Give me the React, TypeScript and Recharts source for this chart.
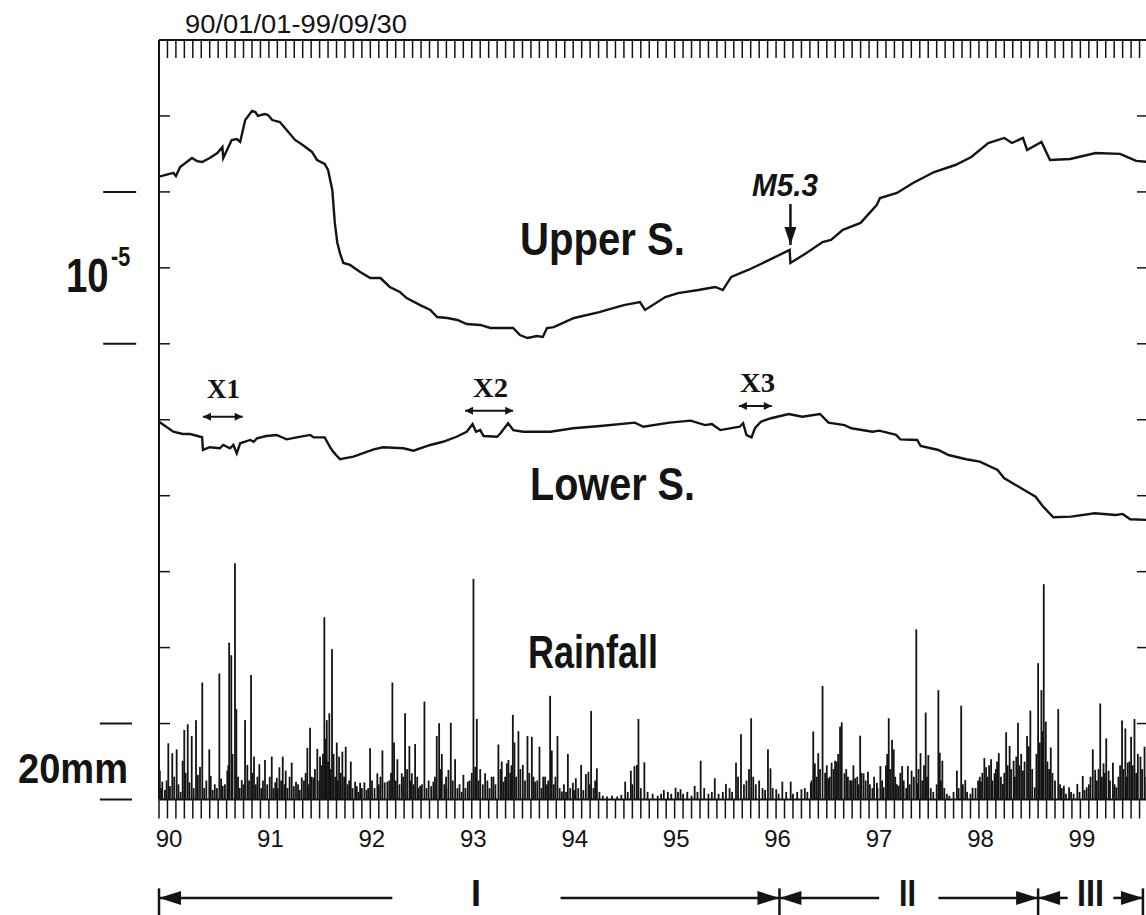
import React from "react";
import { ComposedChart, Line, Bar, XAxis, YAxis, ReferenceLine } from "recharts";

// time axis: months counted from 90/01/01, record ends 99/09/30
const START_YEAR = 90;
const MONTHS = 117;

const INK = "#141414";
const SANS = "'Liberation Sans', Arial, sans-serif";
const SERIF = "'Liberation Serif', 'Times New Roman', serif";

// strain, relative, in units of 1e-6 (scale bar: 10 units = 10^-5)
const upperStrain: [number, number][] = [
  [0, 41.0], [1.7, 41.25], [2.0, 41.05], [2.5, 41.64], [3.9, 42.23], [4.5, 42.03],
  [5.1, 41.97], [6.0, 42.23], [6.9, 42.56], [7.5, 42.95], [7.6, 42.23], [8.6, 43.42],
  [9.2, 43.48], [9.6, 43.29], [10.2, 44.73], [11.0, 45.33], [11.4, 45.26], [11.7, 45.0],
  [12.5, 45.13], [12.9, 45.06], [13.4, 44.73], [14.3, 44.6], [15.1, 44.08], [16.1, 43.42],
  [17.0, 43.09], [18.1, 42.63], [18.7, 42.1], [19.6, 41.84], [20.0, 41.44], [20.5, 40.13],
  [20.8, 37.96], [21.1, 36.64], [21.4, 35.98], [21.8, 35.32], [22.6, 35.19], [23.8, 34.73],
  [25.0, 34.33], [26.2, 34.33], [27.3, 33.74], [28.5, 33.41], [29.3, 33.01], [30.9, 32.55],
  [32.1, 32.23], [32.9, 31.76], [34.1, 31.7], [35.3, 31.57], [36.4, 31.3], [38.0, 31.24],
  [39.2, 31.04], [40.4, 31.04], [41.9, 31.04], [42.7, 30.58], [43.6, 30.38], [44.7, 30.51],
  [45.4, 30.45], [45.9, 31.04], [46.7, 31.1], [49.1, 31.7], [52.1, 32.09], [53.0, 32.23],
  [55.0, 32.55], [56.9, 32.75], [57.5, 32.23], [59.9, 33.08], [61.4, 33.34], [63.8, 33.54],
  [65.8, 33.74], [66.7, 33.54], [67.7, 34.4], [69.7, 34.86], [72.2, 35.52], [74.6, 36.18],
  [74.7, 35.32], [76.6, 35.98], [78.5, 36.7], [79.5, 36.84], [80.9, 37.5], [83.0, 37.96],
  [84.9, 39.14], [85.3, 39.6], [87.3, 39.93], [89.2, 40.59], [91.7, 41.31], [94.2, 41.77],
  [96.1, 42.3], [98.1, 43.22], [100.0, 43.55], [100.9, 43.22], [102.2, 43.55], [102.7, 42.76],
  [104.4, 43.29], [105.4, 42.1], [107.8, 42.17], [110.8, 42.56], [113.7, 42.5], [115.6, 42.04],
  [117, 41.97],
];

const lowerStrain: [number, number][] = [
  [0, 24.87], [1.7, 24.21], [2.8, 24.06], [3.7, 24.06], [5.1, 23.85], [5.2, 23.01],
  [6.0, 23.19], [7.2, 23.12], [7.6, 23.34], [8.4, 23.12], [8.8, 23.34], [9.2, 22.79],
  [9.6, 23.45], [10.8, 23.67], [11.2, 23.55], [11.6, 23.78], [12.7, 23.93], [13.9, 24.0],
  [15.1, 23.71], [16.3, 23.84], [17.9, 24.0], [18.3, 23.84], [19.6, 23.84], [20.2, 23.23],
  [20.6, 22.9], [21.4, 22.4], [23.0, 22.57], [25.4, 23.05], [26.5, 23.19], [28.9, 23.12],
  [30.1, 22.96], [32.1, 23.34], [33.6, 23.55], [35.2, 23.88], [36.4, 24.21], [37.1, 24.72],
  [37.5, 24.21], [38.0, 24.32], [38.4, 23.93], [40.0, 23.88], [40.4, 24.11], [41.3, 24.77],
  [41.9, 24.32], [43.1, 24.21], [46.3, 24.21], [49.0, 24.44], [52.2, 24.59], [56.3, 24.81],
  [57.3, 24.54], [60.4, 24.81], [62.9, 24.94], [64.6, 24.65], [65.4, 24.72], [66.4, 24.32],
  [68.7, 24.54], [69.1, 24.77], [69.5, 23.99], [70.1, 23.84], [70.5, 24.44], [71.2, 24.87],
  [72.4, 25.1], [74.5, 25.38], [76.1, 25.2], [78.2, 25.38], [79.2, 24.81], [81.1, 24.65],
  [81.9, 24.44], [84.4, 24.21], [85.2, 24.28], [87.2, 24.0], [87.7, 23.71], [89.7, 23.67],
  [90.1, 23.27], [92.2, 23.01], [93.4, 22.68], [95.5, 22.4], [97.1, 22.24], [99.2, 21.69],
  [100.0, 21.15], [101.7, 20.59], [103.7, 19.93], [104.6, 19.28], [105.8, 18.58], [107.9, 18.62],
  [110.7, 18.84], [113.2, 18.73], [114.0, 18.8], [114.9, 18.45], [117, 18.4],
];

// daily rainfall, mm: the heavier days
const rainHeavy: [number, number][] = [
  [0.1, 7.6], [0.39, 4.7], [1.1, 14.8], [1.57, 12.2], [2.09, 13.2], [2.8, 10.2], [2.99, 18.3],
  [3.4, 19.8], [3.87, 16.7], [4.38, 20.9], [4.85, 8.6], [5.12, 30.8], [5.95, 13.2], [6.12, 6.2],
  [7.14, 33.2], [7.54, 3.6], [8.08, 7.6], [8.3, 41.3], [8.55, 38.0], [8.99, 62.2], [9.15, 23.8],
  [9.79, 5.1], [10.18, 20.9], [10.45, 9.1], [10.89, 32.8], [11.24, 11.3], [11.87, 9.3],
  [12.54, 10.4], [13.34, 11.3], [13.93, 5.7], [14.24, 8.5], [14.64, 11.3], [14.99, 7.6],
  [15.7, 9.7], [16.21, 4.7], [16.89, 5.8], [17.55, 13.6], [17.87, 18.9], [18.26, 5.8],
  [18.73, 13.3], [19.05, 11.3], [19.56, 48.0], [19.85, 20.9], [20.15, 22.7], [20.47, 39.6],
  [21.03, 15.0], [21.3, 11.3], [21.69, 12.6], [22.09, 13.9], [22.69, 10.0], [23.2, 4.7],
  [23.79, 4.4], [24.97, 13.5], [25.83, 6.9], [26.43, 12.9], [27.02, 4.7], [27.61, 30.8],
  [27.81, 15.0], [28.2, 10.6], [28.72, 6.9], [29.11, 22.7], [29.62, 14.1], [29.91, 6.9],
  [30.3, 14.6], [30.89, 3.6], [31.4, 25.8], [32.46, 4.7], [32.86, 16.7], [33.14, 20.1],
  [33.46, 12.0], [33.96, 6.0], [34.24, 7.8], [34.52, 20.2], [35.03, 10.6], [36.01, 6.5],
  [36.53, 4.7], [37.2, 58.1], [37.4, 8.6], [37.6, 21.2], [38.58, 6.9], [39.56, 6.0],
  [40.15, 14.5], [40.75, 4.7], [41.15, 9.5], [41.34, 10.4], [41.86, 22.3], [42.05, 15.0],
  [42.52, 18.0], [43.04, 9.1], [43.59, 16.7], [44.11, 16.5], [44.5, 4.7], [45.01, 13.9],
  [45.68, 6.0], [46.27, 27.3], [46.47, 12.9], [47.14, 16.7], [47.66, 2.1], [48.37, 12.0],
  [48.96, 4.4], [49.31, 5.6], [49.94, 9.1], [50.5, 6.7], [50.8, 7.3], [51.12, 23.3],
  [51.8, 8.2], [55.15, 4.7], [55.82, 7.6], [56.25, 8.8], [56.54, 9.1], [56.72, 21.2],
  [57.42, 9.8], [59.72, 2.5], [61.11, 3.1], [61.7, 2.7], [63.37, 3.6], [64.08, 10.2],
  [65.75, 5.6], [67.07, 4.1], [68.26, 9.7], [68.85, 17.2], [70.05, 21.4], [72.04, 13.2],
  [72.34, 8.2], [73.02, 2.7], [73.74, 4.7], [74.73, 4.7], [76.0, 2.7], [77.11, 4.4],
  [77.4, 17.9], [77.59, 9.5], [77.99, 12.2], [78.5, 29.9], [79.17, 5.6], [79.57, 9.7],
  [79.98, 10.2], [80.57, 19.2], [80.77, 20.3], [81.09, 6.9], [81.76, 5.1], [82.36, 5.6],
  [82.95, 16.8], [83.35, 6.9], [83.87, 7.3], [84.93, 4.4], [85.34, 8.8], [85.73, 3.2],
  [86.33, 21.4], [86.72, 15.7], [86.92, 13.2], [87.51, 3.6], [87.92, 8.8], [88.59, 8.8],
  [89.03, 7.6], [89.59, 44.8], [89.7, 4.3], [90.09, 12.2], [90.7, 22.9], [91.01, 11.7],
  [92.2, 28.8], [92.37, 12.3], [92.67, 10.2], [94.39, 7.6], [94.9, 24.7], [95.38, 5.1],
  [96.25, 3.1], [97.24, 4.7], [97.64, 10.9], [97.85, 8.5], [98.44, 10.6], [98.84, 6.9],
  [99.35, 12.2], [99.83, 4.1], [100.22, 17.7], [100.63, 14.1], [101.1, 10.2], [101.42, 11.3],
  [101.62, 20.2], [102.21, 7.6], [102.69, 16.7], [103.08, 23.4], [103.6, 3.2], [104.0, 35.9],
  [104.39, 28.8], [104.67, 56.7], [104.91, 20.5], [105.5, 13.7], [106.38, 23.8], [107.05, 3.6],
  [107.66, 3.2], [108.64, 4.1], [109.28, 6.2], [109.75, 3.2], [110.47, 13.2], [110.75, 7.8],
  [111.35, 25.3], [111.74, 9.5], [112.06, 16.1], [112.34, 7.6], [112.85, 9.7], [113.25, 3.2],
  [113.93, 20.8], [114.32, 18.7], [114.6, 9.7], [115.0, 16.5], [115.4, 21.2], [116.11, 11.3],
  [116.59, 13.9],
];

// daily rainfall, mm: the light days that make the dense base
const rainLight: [number, number][] = [
  [0.25, 3], [0.7, 2.5], [0.9, 5], [1.3, 3.5], [1.8, 6], [2.3, 4], [2.55, 2], [3.15, 7],
  [3.6, 4.5], [4.1, 3], [4.6, 6.5], [5.35, 3], [5.6, 5], [6.35, 2.5], [6.6, 4], [6.85, 3],
  [7.35, 5.5], [7.8, 4], [8.2, 9], [8.7, 12], [9.35, 6], [9.55, 3], [10.0, 4], [10.65, 5],
  [11.05, 7], [11.45, 4], [11.65, 6], [12.1, 3], [12.3, 5], [12.8, 4], [13.1, 6], [13.55, 3],
  [13.75, 4.5], [14.05, 3], [14.45, 5], [14.85, 4], [15.2, 3], [15.45, 6], [15.95, 3.5],
  [16.45, 4], [16.65, 2.5], [17.15, 5], [17.35, 7], [17.7, 4], [18.05, 6], [18.45, 8],
  [18.95, 5], [19.25, 9], [19.4, 12], [19.7, 16], [20.0, 10], [20.3, 8], [20.65, 12],
  [20.85, 6], [21.15, 5], [21.5, 7], [21.9, 6], [22.3, 4], [22.5, 5], [22.9, 3], [23.4, 3.5],
  [23.6, 2], [24.0, 3], [24.3, 4.5], [24.55, 2.5], [24.75, 3], [25.2, 5], [25.5, 3], [26.0, 4],
  [26.2, 6], [26.7, 4.5], [27.25, 5], [27.45, 7], [28.0, 5], [28.45, 4], [28.9, 6], [29.35, 8],
  [29.75, 5], [30.1, 4], [30.55, 6], [30.7, 3], [31.1, 4], [31.65, 3], [31.9, 5], [32.2, 3.5],
  [32.65, 6], [33.3, 8], [33.75, 4], [34.0, 3], [34.75, 5], [35.3, 3], [35.55, 4], [35.8, 2],
  [36.25, 3], [36.75, 5], [37.0, 7], [37.8, 5], [38.0, 8], [38.3, 4], [38.85, 5], [39.1, 3],
  [39.35, 6], [39.8, 4], [40.4, 8], [40.55, 10], [40.95, 6], [41.55, 7], [41.7, 9], [42.25, 6],
  [42.75, 8], [43.3, 5], [43.8, 7], [44.3, 6], [44.75, 5], [45.25, 3], [45.45, 6], [45.9, 4],
  [46.05, 5], [46.7, 4], [46.9, 6], [47.4, 3], [47.9, 4], [48.15, 2], [48.65, 3], [49.1, 2.5],
  [49.6, 3], [50.2, 2.5], [50.95, 4], [51.4, 3], [51.6, 5], [52.1, 2], [52.5, 1], [53.0, 0.8],
  [53.6, 1], [54.2, 0.8], [54.7, 1.2], [55.45, 2], [56.0, 4], [57.0, 3], [57.8, 2], [58.4, 1.5],
  [59.0, 1], [59.4, 1.5], [60.2, 2], [60.6, 1.5], [61.4, 2], [62.0, 1.5], [62.5, 2], [63.0, 1],
  [63.7, 2], [64.5, 3], [65.0, 1.5], [65.4, 2], [66.2, 1.5], [66.7, 2], [67.5, 3], [67.8, 2],
  [68.5, 6], [69.2, 4], [69.5, 5], [69.8, 8], [70.3, 6], [70.6, 4], [71.0, 5], [71.4, 3],
  [71.7, 2.5], [72.6, 3], [73.3, 1.5], [74.2, 2], [75.0, 1.5], [75.5, 2], [76.4, 3], [76.7, 2],
  [77.2, 5], [77.8, 6], [78.2, 8], [78.8, 7], [79.0, 9], [79.35, 6], [79.8, 8], [80.2, 10],
  [80.35, 12], [81.3, 8], [81.5, 6], [81.95, 5], [82.15, 9], [82.6, 6], [82.75, 4], [83.1, 7],
  [83.6, 5], [84.1, 4], [84.4, 3], [84.6, 6], [85.0, 3], [85.55, 5], [86.0, 9], [86.15, 12],
  [86.5, 8], [87.1, 6], [87.3, 4], [87.7, 7], [88.1, 5], [88.4, 3], [88.8, 4], [89.3, 6],
  [89.85, 8], [90.3, 5], [90.5, 9], [90.85, 6], [91.3, 3], [91.6, 2], [92.0, 4], [92.5, 5],
  [92.9, 3], [93.2, 1.5], [93.5, 1], [94.0, 2], [94.6, 3], [95.1, 4], [95.6, 2], [96.0, 1.5],
  [96.6, 3], [96.9, 5], [97.1, 6], [97.4, 7], [98.0, 6], [98.2, 9], [98.6, 5], [99.0, 8],
  [99.15, 10], [99.6, 6], [100.0, 7], [100.4, 9], [100.8, 8], [101.25, 6], [101.8, 9],
  [102.0, 12], [102.4, 10], [102.9, 14], [103.3, 8], [103.8, 12], [104.2, 15], [104.5, 18],
  [105.1, 10], [105.3, 8], [105.7, 7], [106.0, 5], [106.6, 4], [106.8, 3], [107.3, 1.5],
  [107.9, 2], [108.2, 1.5], [108.9, 2], [109.5, 2.5], [110.0, 4], [110.2, 6], [110.95, 5],
  [111.15, 8], [111.55, 6], [111.9, 7], [112.5, 5], [113.05, 4], [113.5, 6], [113.7, 9],
  [114.1, 8], [114.45, 6], [114.8, 10], [115.2, 9], [115.6, 7], [115.8, 12], [116.3, 8],
  [116.8, 6],
];

// double arrows over the lower curve (month from, month to, strain level)
const xMarks = [
  { label: "X1", from: 5.2, to: 9.9, level: 25.2 },
  { label: "X2", from: 36.2, to: 41.9, level: 25.6 },
  { label: "X3", from: 68.6, to: 72.5, level: 25.9 },
];

// M5.3 event, month and arrow span on the strain scale
const quake = { month: 74.7, top: 39.2, tip: 36.5 };

// periods I, II, III along the time axis (gap leaves room for the numeral)
const periods = [
  { label: "I", start: 0, end: 73.4, gapFrom: 27.6, gapTo: 47.5 },
  { label: "II", start: 73.4, end: 104, gapFrom: 85.2, gapTo: 92.2 },
  { label: "III", start: 104, end: 116.4, gapFrom: 107.5, gapTo: 112.9 },
];
const PERIOD_LEVEL = -6.48;

const rainData = [...rainHeavy, ...rainLight]
  .sort((a, b) => a[0] - b[0])
  .map(([m, mm]) => ({ m, rain: mm }));
const upperData = upperStrain.map(([m, v]) => ({ m, v }));
const lowerData = lowerStrain.map(([m, v]) => ({ m, v }));
const monthTicks = Array.from({ length: MONTHS + 1 }, (_, i) => i);

const Arrow = (props: any) => {
  const { x1, y1, x2, y2, headStart, headEnd, head = 7, half = 4, sw = 2 } = props;
  const dx = x2 - x1;
  const dy = y2 - y1;
  const len = Math.hypot(dx, dy) || 1;
  const ux = dx / len;
  const uy = dy / len;
  const tri = (tx: number, ty: number, sx: number, sy: number) => {
    const bx = tx - sx * head;
    const by = ty - sy * head;
    return `${tx},${ty} ${bx - sy * half},${by + sx * half} ${bx + sy * half},${by - sx * half}`;
  };
  return (
    <g>
      <line x1={x1} y1={y1} x2={x2} y2={y2} stroke={INK} strokeWidth={sw} />
      {headStart && <polygon points={tri(x1, y1, -ux, -uy)} fill={INK} />}
      {headEnd && <polygon points={tri(x2, y2, ux, uy)} fill={INK} />}
    </g>
  );
};

// one thin stroke per rain day, centred on its date
const RainStroke = (props: any) => {
  const { x, y, width, height } = props;
  if (!height || height <= 0) return null;
  return <rect x={x + width / 2 - 0.9} y={y} width={1.8} height={height} fill={INK} />;
};

const BottomTick = ({ x, y, payload }: any) => (
  <g>
    <line x1={x} y1={y} x2={x} y2={y + 19} stroke={INK} strokeWidth={1.5} />
    {payload.value % 12 === 0 && (
      <text x={x + 10} y={y + 47} textAnchor="middle" fontFamily={SANS} fontSize={24} fill={INK}>
        {START_YEAR + payload.value / 12}
      </text>
    )}
  </g>
);

const TopTick = ({ x, y }: any) => (
  <line x1={x} y1={y} x2={x} y2={y + 18} stroke={INK} strokeWidth={1.5} />
);

const LeftTick = ({ x, y }: any) => (
  <line x1={x} y1={y} x2={x + 11} y2={y} stroke={INK} strokeWidth={1.5} />
);

const RightTick = ({ x, y }: any) => (
  <line x1={x} y1={y} x2={x - 11} y2={y} stroke={INK} strokeWidth={1.5} />
);

export default function App() {
  return (
    <div
      style={{
        position: "fixed",
        left: 0,
        top: 0,
        width: 1146,
        height: 915,
        overflow: "hidden",
        background: "#fff",
      }}
    >
      <ComposedChart
        width={1160}
        height={915}
        data={rainData}
        margin={{ top: 39, right: 11, bottom: 114.5, left: 158 }}
      >
        <XAxis
          xAxisId="b"
          dataKey="m"
          type="number"
          domain={[0, MONTHS]}
          allowDataOverflow
          ticks={monthTicks}
          interval={0}
          height={1}
          tickSize={0}
          tickMargin={0}
          tickLine={false}
          axisLine={{ stroke: INK, strokeWidth: 2 }}
          tick={<BottomTick />}
        />
        <XAxis
          xAxisId="t"
          orientation="top"
          dataKey="m"
          type="number"
          domain={[0, MONTHS]}
          allowDataOverflow
          ticks={monthTicks}
          interval={0}
          height={1}
          tickSize={0}
          tickMargin={0}
          tickLine={false}
          axisLine={{ stroke: INK, strokeWidth: 2 }}
          tick={<TopTick />}
        />
        <YAxis
          yAxisId="s"
          type="number"
          domain={[0, 50]}
          allowDataOverflow
          ticks={[5, 10, 15, 20, 25, 30, 35, 40, 45]}
          interval={0}
          width={1}
          tickSize={0}
          tickMargin={0}
          tickLine={false}
          axisLine={{ stroke: INK, strokeWidth: 2 }}
          tick={<LeftTick />}
        />
        <YAxis
          yAxisId="r"
          orientation="right"
          type="number"
          domain={[0, 200]}
          allowDataOverflow
          ticks={[20, 40, 60, 80, 100, 120, 140, 160, 180]}
          interval={0}
          width={1}
          tickSize={0}
          tickMargin={0}
          tickLine={false}
          axisLine={{ stroke: INK, strokeWidth: 2 }}
          tick={<RightTick />}
        />

        <Bar
          xAxisId="b"
          yAxisId="r"
          dataKey="rain"
          barSize={2}
          fill={INK}
          shape={<RainStroke />}
          isAnimationActive={false}
        />
        <Line
          xAxisId="b"
          yAxisId="s"
          data={upperData}
          dataKey="v"
          type="linear"
          stroke={INK}
          strokeWidth={2.4}
          dot={false}
          isAnimationActive={false}
        />
        <Line
          xAxisId="b"
          yAxisId="s"
          data={lowerData}
          dataKey="v"
          type="linear"
          stroke={INK}
          strokeWidth={2.4}
          dot={false}
          isAnimationActive={false}
        />

        {/* scale bars left of the frame */}
        {[30, 40].map((v) => (
          <ReferenceLine
            key={`s${v}`}
            xAxisId="b"
            yAxisId="s"
            ifOverflow="visible"
            segment={[{ x: -6.6, y: v }, { x: -2.7, y: v }]}
            stroke={INK}
            strokeWidth={2}
          />
        ))}
        {[0, 20].map((v) => (
          <ReferenceLine
            key={`r${v}`}
            xAxisId="b"
            yAxisId="r"
            ifOverflow="visible"
            segment={[{ x: -7.0, y: v }, { x: -3.2, y: v }]}
            stroke={INK}
            strokeWidth={2}
          />
        ))}

        {xMarks.map((d) => (
          <ReferenceLine
            key={d.label}
            xAxisId="b"
            yAxisId="s"
            ifOverflow="visible"
            segment={[{ x: d.from, y: d.level }, { x: d.to, y: d.level }]}
            shape={(p: any) => <Arrow {...p} headStart headEnd head={8} half={4} sw={2} />}
          />
        ))}

        <ReferenceLine
          xAxisId="b"
          yAxisId="s"
          ifOverflow="visible"
          segment={[{ x: quake.month, y: quake.top }, { x: quake.month, y: quake.tip }]}
          shape={(p: any) => <Arrow {...p} headEnd head={18} half={6} sw={2.5} />}
        />

        {periods.map((p) => (
          <ReferenceLine
            key={`a${p.label}`}
            xAxisId="b"
            yAxisId="s"
            ifOverflow="visible"
            segment={[{ x: p.start, y: PERIOD_LEVEL }, { x: p.gapFrom, y: PERIOD_LEVEL }]}
            shape={(q: any) => <Arrow {...q} headStart head={22} half={7} sw={2.5} />}
          />
        ))}
        {periods.map((p) => (
          <ReferenceLine
            key={`b${p.label}`}
            xAxisId="b"
            yAxisId="s"
            ifOverflow="visible"
            segment={[{ x: p.gapTo, y: PERIOD_LEVEL }, { x: p.end, y: PERIOD_LEVEL }]}
            shape={(q: any) => <Arrow {...q} headEnd head={22} half={7} sw={2.5} />}
          />
        ))}
        {[0, 73.4, 104, 116.4].map((m) => (
          <ReferenceLine
            key={`bar${m}`}
            xAxisId="b"
            yAxisId="s"
            ifOverflow="visible"
            segment={[{ x: m, y: -5.85 }, { x: m, y: -7.8 }]}
            stroke={INK}
            strokeWidth={2.5}
          />
        ))}
      </ComposedChart>

      <svg
        width={1146}
        height={915}
        style={{ position: "absolute", left: 0, top: 0, pointerEvents: "none" }}
      >
        <text x={185} y={33} fontFamily={SANS} fontSize={25} fill={INK} textLength={222} lengthAdjust="spacingAndGlyphs">
          90/01/01-99/09/30
        </text>

        <text
          transform="translate(66,292) scale(0.8,1)"
          fontFamily={SANS}
          fontWeight="bold"
          fontSize={48}
          fill={INK}
        >
          10
          <tspan dx={3} dy={-26} fontSize={27}>
            -5
          </tspan>
        </text>
        <text x={18} y={783} fontFamily={SANS} fontWeight="bold" fontSize={42} fill={INK} textLength={110} lengthAdjust="spacingAndGlyphs">
          20mm
        </text>

        <text x={520} y={255} fontFamily={SANS} fontWeight="bold" fontSize={47} fill={INK} textLength={165} lengthAdjust="spacingAndGlyphs">
          Upper S.
        </text>
        <text x={752} y={196} fontFamily={SANS} fontWeight="bold" fontStyle="italic" fontSize={32} fill={INK} textLength={66} lengthAdjust="spacingAndGlyphs">
          M5.3
        </text>
        <text x={530} y={500} fontFamily={SANS} fontWeight="bold" fontSize={46} fill={INK} textLength={165} lengthAdjust="spacingAndGlyphs">
          Lower S.
        </text>
        <text x={528} y={668} fontFamily={SANS} fontWeight="bold" fontSize={46} fill={INK} textLength={130} lengthAdjust="spacingAndGlyphs">
          Rainfall
        </text>

        <text x={207} y={398} fontFamily={SERIF} fontWeight="bold" fontSize={27} fill={INK} textLength={33} lengthAdjust="spacingAndGlyphs">
          X1
        </text>
        <text x={473} y={397} fontFamily={SERIF} fontWeight="bold" fontSize={27} fill={INK} textLength={35} lengthAdjust="spacingAndGlyphs">
          X2
        </text>
        <text x={740} y={392} fontFamily={SERIF} fontWeight="bold" fontSize={27} fill={INK} textLength={35} lengthAdjust="spacingAndGlyphs">
          X3
        </text>

        <text x={476} y={906} textAnchor="middle" fontFamily={SANS} fontWeight="bold" fontSize={36} fill={INK}>
          I
        </text>
        <text x={899} y={906} fontFamily={SANS} fontWeight="bold" fontSize={36} fill={INK} textLength={17} lengthAdjust="spacingAndGlyphs">
          II
        </text>
        <text x={1077} y={906} fontFamily={SANS} fontWeight="bold" fontSize={36} fill={INK} textLength={27} lengthAdjust="spacingAndGlyphs">
          III
        </text>
      </svg>
    </div>
  );
}
